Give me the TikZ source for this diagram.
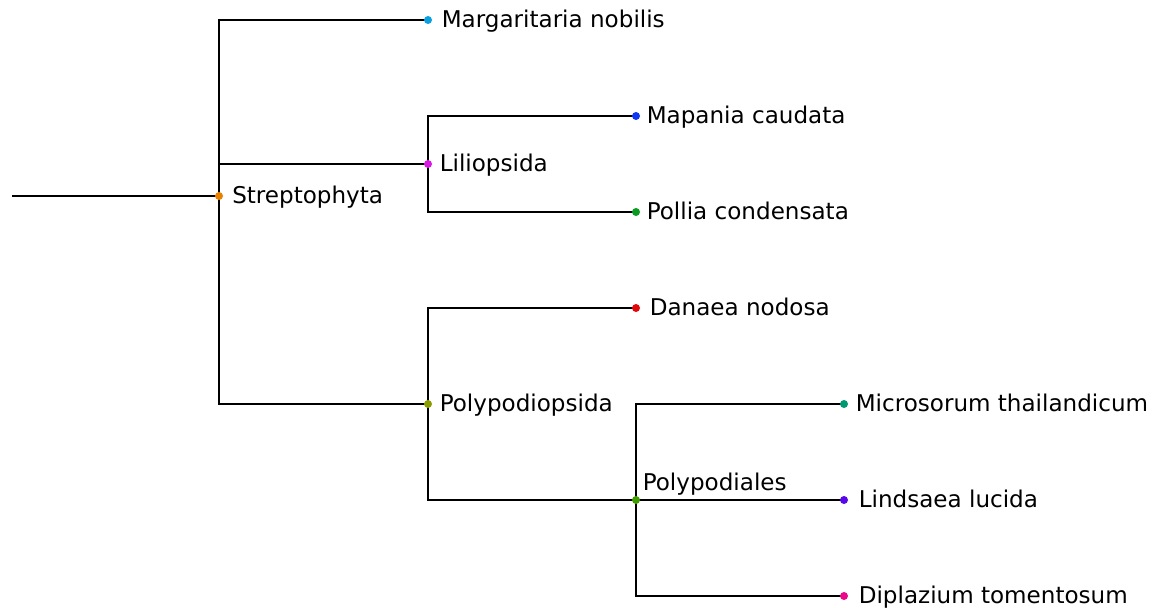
\documentclass[tikz,border=0pt]{standalone}
\usepackage{fontspec}
\setmainfont{DejaVu Sans}
\usetikzlibrary{calc}
\pgfdeclarelayer{background}
\pgfsetlayers{background,main}
\definecolor{cMarg}{HTML}{0AA0E0}
\definecolor{cMap}{HTML}{1038F0}
\definecolor{cPol}{HTML}{0C9A20}
\definecolor{cStrep}{HTML}{E88000}
\definecolor{cLili}{HTML}{D818E0}
\definecolor{cDan}{HTML}{E00808}
\definecolor{cPolyps}{HTML}{8C9C00}
\definecolor{cMicro}{HTML}{009870}
\definecolor{cPolyd}{HTML}{409C00}
\definecolor{cLind}{HTML}{5808E8}
\definecolor{cDipl}{HTML}{E80888}
\tikzset{
  dot/.style={circle, fill=#1, inner sep=0pt, minimum size=6pt},
  branch/.style={draw=black, line width=1.7pt},
  lbl/.style={anchor=base west, inner sep=0pt, font=\fontsize{17.3}{21}\selectfont}
}
\begin{document}
\begin{tikzpicture}[x=0.75pt, y=-0.75pt]
\useasboundingbox (0,0) rectangle (1153,607);
% internal and leaf points of the tree
\node[dot=cStrep]  (strep)  at (219,196) {};
\node[dot=cMarg]   (marg)   at (428,20)  {};
\node[dot=cLili]   (lili)   at (428,164) {};
\node[dot=cMap]    (map)    at (636,116) {};
\node[dot=cPol]    (pol)    at (636,212) {};
\node[dot=cPolyps] (polyps) at (428,404) {};
\node[dot=cDan]    (dan)    at (636,308) {};
\node[dot=cPolyd]  (polyd)  at (636,500) {};
\node[dot=cMicro]  (micro)  at (844,404) {};
\node[dot=cLind]   (lind)   at (844,500) {};
\node[dot=cDipl]   (dipl)   at (844,596) {};
\coordinate (root) at (12,196);
% branches
\begin{pgfonlayer}{background}
\draw[branch] (root) -- (strep.center);
\draw[branch] (strep.center) |- (marg.center);
\draw[branch] (strep.center) |- (lili.center);
\draw[branch] (strep.center) |- (polyps.center);
\draw[branch] (lili.center) |- (map.center);
\draw[branch] (lili.center) |- (pol.center);
\draw[branch] (polyps.center) |- (dan.center);
\draw[branch] (polyps.center) |- (polyd.center);
\draw[branch] (polyd.center) |- (micro.center);
\draw[branch] (polyd.center) -- (lind.center);
\draw[branch] (polyd.center) |- (dipl.center);
\end{pgfonlayer}
% labels
\node[lbl] (tstrep)  at ($(strep)+(13,7.5)$)  {Streptophyta};
\node[lbl] (tmarg)   at ($(marg)+(13.5,7.5)$) {Margaritaria nobilis};
\node[lbl] (tlili)   at ($(lili)+(11.5,7.5)$) {Liliopsida};
\node[lbl] (tmap)    at ($(map)+(10.5,7.5)$)  {Mapania caudata};
\node[lbl] (tpol)    at ($(pol)+(10.5,7.5)$)  {Pollia condensata};
\node[lbl] (tpolyps) at ($(polyps)+(11.5,7.5)$) {Polypodiopsida};
\node[lbl] (tdan)    at ($(dan)+(13.5,7.5)$)  {Danaea nodosa};
\node[lbl] (tpolyd)  at ($(polyd)+(6.5,-9.5)$) {Polypodiales};
\node[lbl] (tmicro)  at ($(micro)+(11.5,7.5)$) {Microsorum thailandicum};
\node[lbl] (tlind)   at ($(lind)+(14.5,7.5)$) {Lindsaea lucida};
\node[lbl] (tdipl)   at ($(dipl)+(14.5,7.5)$) {Diplazium tomentosum};
\end{tikzpicture}
\end{document}
